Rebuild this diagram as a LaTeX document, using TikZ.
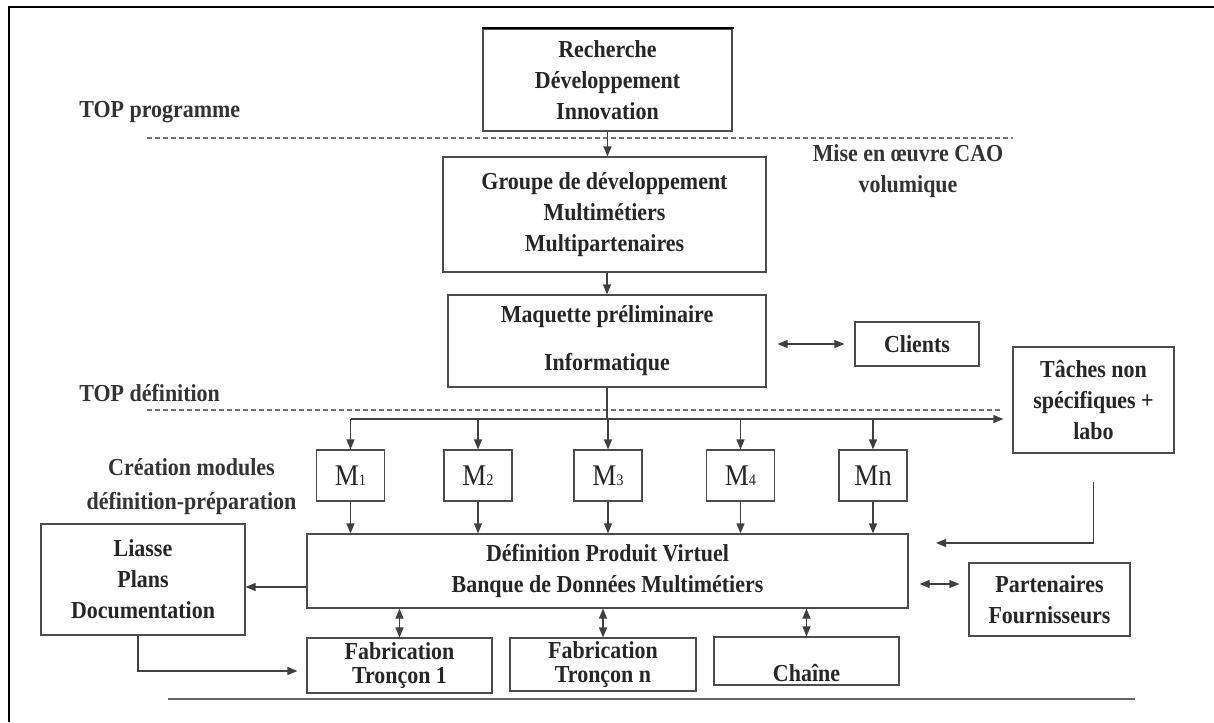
\documentclass[tikz,border=0pt]{standalone}
\usepackage{fontspec}
\setmainfont[FakeStretch=0.9]{Liberation Serif}
\usetikzlibrary{arrows.meta}
\begin{document}
\begin{tikzpicture}[x=0.5pt,y=-0.5pt,
  box/.style={draw=black!70, line width=0.6pt, inner sep=0pt, align=center, text=black!85, font=\bfseries\fontsize{12.2}{15.5}\selectfont},
  lbl/.style={inner sep=0pt, align=center, text=black!80, font=\bfseries\fontsize{12.2}{15.5}\selectfont},
  mod/.style={draw=black!70, line width=0.6pt, inner sep=0pt, minimum width=34pt, minimum height=25.5pt, text=black!85, font=\fontsize{15}{15}\selectfont},
  arr/.style={draw=black!75, line width=0.6pt, -{Triangle[length=5pt,width=4pt]}},
  darr/.style={draw=black!75, line width=0.6pt, {Triangle[length=5pt,width=4pt]}-{Triangle[length=5pt,width=4pt]}},
  sep/.style={draw=black!55, line width=0.6pt, dash pattern=on 2.5pt off 1.5pt}]
\useasboundingbox (0,0) rectangle (1214,722);
\draw[line width=1.2pt] (1214,7) -- (9,7) -- (9,722);

\node[box, minimum width=124.5pt, minimum height=51pt] (rdi) at (607.5,80) {Recherche\\Développement\\Innovation};
\draw[line width=1.1pt] (rdi.north west) -- ([xshift=0.5pt]rdi.north east);
\node[box, minimum width=161.5pt, minimum height=57.5pt] (grp) at (604.5,214.5) {Groupe de développement\\Multimétiers\\Multipartenaires};
\node[box, minimum width=159pt, minimum height=46pt] (maq) at (607,341) {Maquette préliminaire\\[8.5pt]Informatique};
\node[box, minimum width=62pt, minimum height=22pt] (cli) at (917,344) {Clients};
\node[box, minimum width=80.5pt, minimum height=53pt] (tac) at (1093.5,400) {Tâches non\\spécifiques +\\labo};
\foreach \n/\x in {1/350.5,2/478,3/608,4/740.5}
  \node[mod] (m\n) at (\x,475.5) {M{\fontsize{8}{8}\selectfont\n}};
\node[mod] (mn) at (873,475.5) {Mn};
\node[box, minimum width=300.5pt, minimum height=37pt] (def) at (607.5,571) {Définition Produit Virtuel\\Banque de Données Multimétiers};
\node[box, minimum width=102pt, minimum height=55.5pt] (lia) at (143,579.5) {Liasse\\Plans\\Documentation};
\node[box, minimum width=80.5pt, minimum height=36.5pt] (par) at (1049.5,599.5) {Partenaires\\Fournisseurs};
\node[box, minimum width=92.5pt, minimum height=27.5pt, font=\bfseries\fontsize{12.2}{12.2}\selectfont] (fab1) at (399.5,665.5) {Fabrication\\Tronçon 1};
\node[box, minimum width=93pt, minimum height=26.5pt, font=\bfseries\fontsize{12.2}{12.2}\selectfont] (fabn) at (603,664.5) {Fabrication\\Tronçon n};
\node[box, minimum width=92.5pt, minimum height=24pt] (cha) at (806.5,661) {\raisebox{-6pt}[\height][\depth]{Chaîne}};

\node[lbl, anchor=west] (tprog) at (79,112) {TOP programme};
\node[lbl] (cao) at (908,171) {Mise en œuvre CAO\\volumique};
\node[lbl, anchor=west] (tdef) at (79,393) {TOP définition};
\node[lbl] (crea) at (191.5,487) {Création modules\\[1.5pt]définition-préparation};

\draw[sep] (147,138) -- (1013,138);
\draw[sep] (147,410) -- (1002,410);

\draw[arr] (rdi.south) -- (rdi.south |- grp.north);
\draw[arr] (maq.north |- grp.south) -- (maq.north);
\draw[darr, shorten <=5.5pt, shorten >=5pt] (cli.west -| maq.east) -- (cli.west);
\coordinate (bus) at (607,419);
\draw[draw=black!75, line width=0.6pt] (maq.south) -- (maq.south |- bus);
\draw[arr, shorten >=4.5pt] (m1 |- bus) -- (tac.west |- bus);
\foreach \m in {m1,m2,m3,m4,mn} {
  \draw[arr] (\m |- bus) -- (\m.north);
  \draw[arr] (\m.south) -- (\m.south |- def.north);
}
\draw[arr] ([yshift=-8pt]def.west) -- ([yshift=-8pt]def.west -| lia.east);
\coordinate (vin) at (936,543);
\draw[arr] ([yshift=-14pt]tac.south) |- (vin);
\draw[darr, shorten <=5.5pt, shorten >=4.5pt] ([yshift=-6.5pt]def.east) -- ([yshift=-6.5pt]def.east -| par.west);
\foreach \f in {fab1,fabn,cha}
  \draw[darr] (\f.north |- def.south) -- (\f.north);
\draw[arr, shorten >=4.5pt] ([xshift=-2.5pt]lia.south) |- ([yshift=-2.75pt]fab1.west);
\draw[black!60, line width=1pt] (168,699) -- (1135,699);
\end{tikzpicture}
\end{document}
